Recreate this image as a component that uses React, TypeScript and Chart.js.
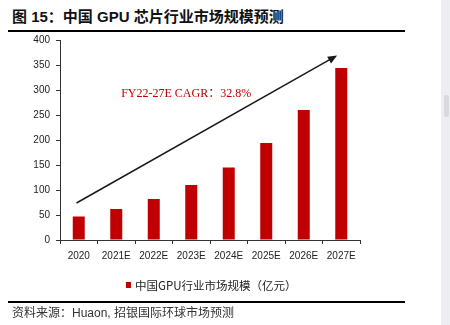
import React, { useEffect, useRef } from "react";
import { Chart, registerables } from "chart.js";

Chart.register(...registerables);

const titleText = "图 15：中国 GPU 芯片行业市场规模预测";
const sourceText = "资料来源：Huaon, 招银国际环球市场预测";
const seriesName = "中国GPU行业市场规模（亿元）";
const categories = ["2020", "2021E", "2022E", "2023E", "2024E", "2025E", "2026E", "2027E"];
const marketSize = [47, 62, 82, 110, 145, 194, 260, 344];
const yTicksMax = 400;
const yTickStep = 50;
const cagrLabel = "FY22-27E CAGR：32.8%";
const cagrLabelPos = [1.13, 292]; // [category index, value]
const arrowFrom = [-0.06, 74];
const arrowTo = [6.89, 369];

const RED = "#C00000";

const arrowPlugin = {
  id: "cagrArrow",
  afterDatasetsDraw(chart: any) {
    const { ctx, scales } = chart;
    const x = scales.x;
    const y = scales.y;
    const x1 = x.getPixelForValue(arrowFrom[0]);
    const y1 = y.getPixelForValue(arrowFrom[1]);
    const x2 = x.getPixelForValue(arrowTo[0]);
    const y2 = y.getPixelForValue(arrowTo[1]);
    const ang = Math.atan2(y2 - y1, x2 - x1);
    const head = 10;
    ctx.save();
    ctx.strokeStyle = "#1a1a1a";
    ctx.fillStyle = "#1a1a1a";
    ctx.lineWidth = 1.5;
    ctx.beginPath();
    ctx.moveTo(x1, y1);
    ctx.lineTo(x2 - Math.cos(ang) * head * 0.8, y2 - Math.sin(ang) * head * 0.8);
    ctx.stroke();
    ctx.beginPath();
    ctx.moveTo(x2, y2);
    ctx.lineTo(x2 - head * Math.cos(ang - 0.4), y2 - head * Math.sin(ang - 0.4));
    ctx.lineTo(x2 - head * Math.cos(ang + 0.4), y2 - head * Math.sin(ang + 0.4));
    ctx.closePath();
    ctx.fill();
    // label
    ctx.fillStyle = RED;
    ctx.font = '12px "Liberation Serif", "Noto Sans CJK SC", serif';
    ctx.textBaseline = "middle";
    ctx.textAlign = "left";
    ctx.fillText(cagrLabel, x.getPixelForValue(cagrLabelPos[0]), y.getPixelForValue(cagrLabelPos[1]));
    ctx.restore();
  },
};

export default function App() {
  const ref = useRef<HTMLCanvasElement | null>(null);
  useEffect(() => {
    if (!ref.current) return;
    const chart = new Chart(ref.current, {
      type: "bar",
      data: {
        labels: categories,
        datasets: [
          {
            label: seriesName,
            data: marketSize,
            backgroundColor: RED,
            borderWidth: 0,
            barPercentage: 0.8,
            categoryPercentage: 0.4,
          },
        ],
      },
      options: {
        responsive: false,
        animation: false,
        devicePixelRatio: 1,
        layout: { padding: { left: 0, right: 80, top: 40, bottom: 0 } },
        plugins: {
          legend: { display: false },
          tooltip: { enabled: false },
          title: { display: false },
        },
        scales: {
          x: {
            offset: true,
            afterFit: (s: any) => {
              s.height = 85;
            },
            grid: {
              offset: true,
              drawOnChartArea: false,
              drawTicks: true,
              tickLength: 4,
              color: "#333",
            },
            border: { display: true, color: "#333", width: 1 },
            ticks: {
              color: "#222",
              padding: 6,
              maxRotation: 0,
              autoSkip: false,
              font: { family: '"Liberation Sans", Arial, sans-serif', size: 10 },
            },
          },
          y: {
            min: 0,
            max: yTicksMax,
            afterFit: (s: any) => {
              s.width = 60;
            },
            grid: {
              drawOnChartArea: false,
              drawTicks: true,
              tickLength: 4,
              color: "#333",
            },
            border: { display: true, color: "#333", width: 1 },
            ticks: {
              stepSize: yTickStep,
              color: "#222",
              padding: 6,
              font: { family: '"Liberation Sans", Arial, sans-serif', size: 10 },
            },
          },
        },
      },
      plugins: [arrowPlugin],
    });
    return () => chart.destroy();
  }, []);

  const cjk = '"Liberation Sans", Arial, "Noto Sans CJK SC", sans-serif';

  return (
    <div
      style={{
        position: "absolute",
        left: 0,
        top: 0,
        width: 450,
        height: 325,
        background: "#fff",
        overflow: "hidden",
      }}
    >
      <div
        style={{
          position: "absolute",
          left: 12,
          top: 7,
          fontFamily: cjk,
          fontWeight: "bold",
          fontSize: 15,
          lineHeight: "20px",
          color: "#111",
          whiteSpace: "nowrap",
        }}
      >
        {titleText}
      </div>
      <div style={{ position: "absolute", left: 8, top: 30, width: 397, height: 1.5, background: "#000" }} />
      <div style={{ position: "absolute", left: 8, top: 29.5, width: 18, height: 2.5, background: "#000" }} />
      <div style={{ position: "absolute", left: 389, top: 29.5, width: 16, height: 2.5, background: "#000" }} />
      <canvas
        ref={ref}
        width={440}
        height={325}
        style={{ position: "absolute", left: 0, top: 0, width: 440, height: 325 }}
      />
      <div
        style={{
          position: "absolute",
          left: 126,
          top: 277,
          display: "flex",
          alignItems: "center",
          whiteSpace: "nowrap",
          fontFamily: '"Noto Sans CJK SC", sans-serif',
          fontSize: 11.5,
          lineHeight: "16px",
          color: "#222",
        }}
      >
        <span style={{ display: "inline-block", width: 5, height: 6, background: RED, marginRight: 4 }} />
        <span>{seriesName}</span>
      </div>
      <div style={{ position: "absolute", left: 8, top: 301, width: 397, height: 1.5, background: "#000" }} />
      <div
        style={{
          position: "absolute",
          left: 12,
          top: 305,
          fontFamily: cjk,
          fontSize: 12,
          lineHeight: "16px",
          color: "#333",
          whiteSpace: "nowrap",
        }}
      >
        {sourceText}
      </div>
      <div style={{ position: "absolute", left: 441, top: 0, width: 9, height: 325, background: "#eceef1" }} />
      <div style={{ position: "absolute", left: 444, top: 95, width: 5, height: 22, background: "#d8dadd", borderRadius: 2 }} />
    </div>
  );
}
